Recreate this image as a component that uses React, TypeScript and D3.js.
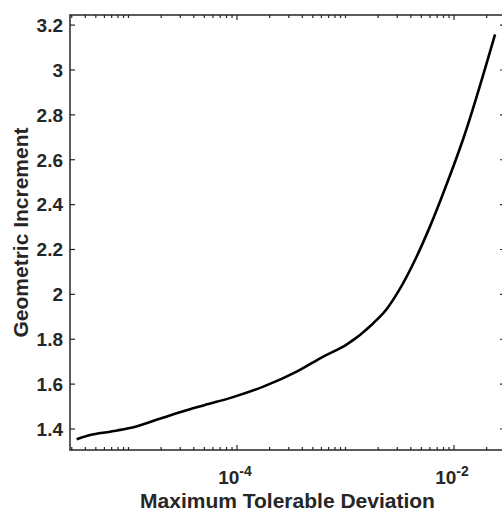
import React, { useEffect, useRef } from "react";
import * as d3 from "d3";

// values
const deviation = [
  3.33e-6, 4.42e-6, 6.75e-6, 1.03e-5, 1.87e-5, 3.09e-5, 5.07e-5, 9.19e-5,
  1.75e-4, 3.55e-4, 6.24e-4, 1.03e-3, 1.8e-3, 2.4e-3, 3.07e-3, 4.53e-3,
  6.01e-3, 7.97e-3, 1.21e-2, 2.39e-2,
];
const increment = [
  1.354, 1.373, 1.388, 1.404, 1.443, 1.477, 1.507, 1.542, 1.589, 1.656, 1.723,
  1.777, 1.871, 1.935, 2.013, 2.169, 2.303, 2.452, 2.69, 3.159,
];
const yTicks = [1.4, 1.6, 1.8, 2, 2.2, 2.4, 2.6, 2.8, 3, 3.2];
const xLabelExps = [-4, -2];

const xLimits = [Math.pow(10, -5.539), Math.pow(10, -1.53)];
const yLimits = [1.3064, 3.245];

const App = () => {
  const svgRef = useRef<SVGSVGElement>(null);

  useEffect(() => {
    const margin = { top: 15, left: 70, right: 505, bottom: 450 };
    const axisColor = "#262626";
    const font = "'Liberation Sans', Arial, sans-serif";

    const svg = d3.select(svgRef.current);
    svg.selectAll("*").remove();

    const x = d3.scaleLog().domain(xLimits).range([margin.left, margin.right]);
    const y = d3.scaleLinear().domain(yLimits).range([margin.bottom, margin.top]);

    // x ticks: majors at labelled decades, minors elsewhere
    const xTickVals: { v: number; major: boolean }[] = [];
    for (let e = -6; e <= -1; e++) {
      for (let m = 1; m <= 9; m++) {
        const v = m * Math.pow(10, e);
        if (v < xLimits[0] || v > xLimits[1]) continue;
        xTickVals.push({ v, major: m === 1 && xLabelExps.includes(e) });
      }
    }

    const ticks = svg.append("g").attr("stroke", axisColor).attr("stroke-width", 1.2);
    xTickVals.forEach((t) => {
      const len = t.major ? 5 : 3;
      const px = x(t.v);
      ticks.append("line").attr("x1", px).attr("x2", px)
        .attr("y1", margin.bottom).attr("y2", margin.bottom - len);
      ticks.append("line").attr("x1", px).attr("x2", px)
        .attr("y1", margin.top).attr("y2", margin.top + len);
    });
    yTicks.forEach((t) => {
      const py = y(t);
      ticks.append("line").attr("x1", margin.left).attr("x2", margin.left + 5)
        .attr("y1", py).attr("y2", py);
      ticks.append("line").attr("x1", margin.right).attr("x2", margin.right - 5)
        .attr("y1", py).attr("y2", py);
    });

    // box
    svg.append("rect")
      .attr("x", margin.left).attr("y", margin.top)
      .attr("width", margin.right - margin.left)
      .attr("height", margin.bottom - margin.top)
      .attr("fill", "none").attr("stroke", axisColor).attr("stroke-width", 1.5);

    // data line
    const pts = deviation.map((d, i) => [d, increment[i]] as [number, number]);
    svg.append("path")
      .datum(pts)
      .attr("fill", "none")
      .attr("stroke", "#000")
      .attr("stroke-width", 2.6)
      .attr("stroke-linejoin", "round")
      .attr("d", d3.line<[number, number]>()
        .curve(d3.curveMonotoneX)
        .x((d) => x(d[0])).y((d) => y(d[1])));

    // y tick labels
    svg.append("g").selectAll("text").data(yTicks).enter().append("text")
      .attr("x", margin.left - 7)
      .attr("y", (d) => y(d))
      .attr("dy", "0.36em")
      .attr("text-anchor", "end")
      .attr("font-family", font).attr("font-weight", "bold").attr("font-size", 19)
      .attr("fill", axisColor)
      .text((d) => d3.format("")(d));

    // x tick labels (10^e)
    xLabelExps.forEach((e) => {
      const t = svg.append("text")
        .attr("x", x(Math.pow(10, e)) - 2)
        .attr("y", 484)
        .attr("text-anchor", "middle")
        .attr("font-family", font).attr("font-weight", "bold").attr("font-size", 19)
        .attr("fill", axisColor);
      t.append("tspan").text("10");
      t.append("tspan").attr("dy", -8).attr("font-size", 14).text(String(e));
    });

    svg.append("text")
      .attr("x", (margin.left + margin.right) / 2)
      .attr("y", 508)
      .attr("text-anchor", "middle")
      .attr("font-family", font).attr("font-weight", "bold").attr("font-size", 21)
      .attr("fill", axisColor)
      .text("Maximum Tolerable Deviation");

    svg.append("text")
      .attr("transform", `translate(28,${(margin.top + margin.bottom) / 2}) rotate(-90)`)
      .attr("text-anchor", "middle")
      .attr("font-family", font).attr("font-weight", "bold").attr("font-size", 21)
      .attr("fill", axisColor)
      .text("Geometric Increment");
  }, []);

  return (
    <svg
      ref={svgRef}
      width={502}
      height={512}
      style={{ position: "absolute", left: 0, top: 0, background: "#fff" }}
    ></svg>
  );
};

export default App;
